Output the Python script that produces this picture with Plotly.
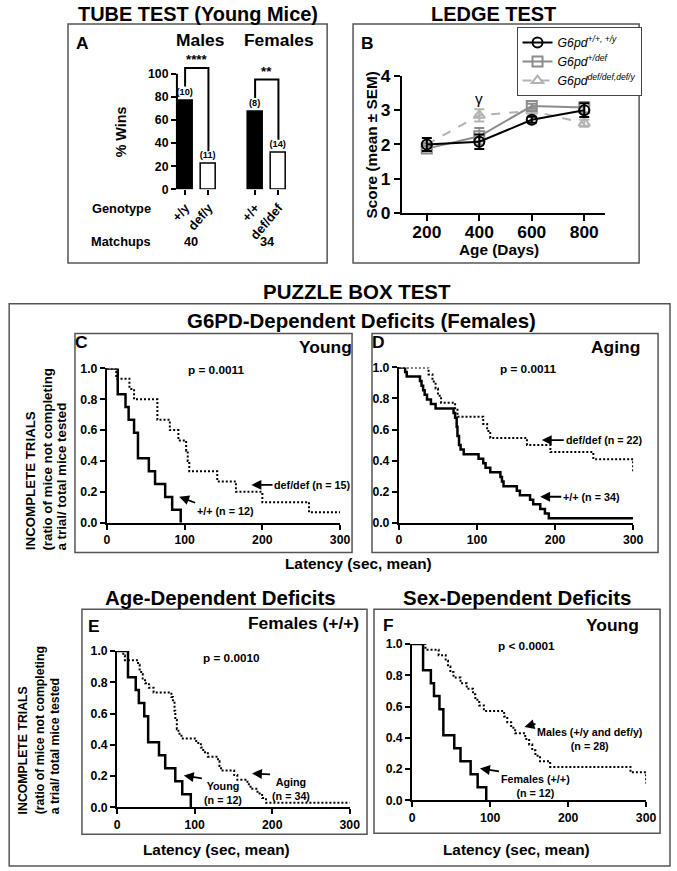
import plotly.graph_objects as go

# The page is captured from a 693x887 area (8px body margin around the figure)
# and shown at 677x871.  Target-picture pixels are mapped into figure pixels.
TW, TH = 677, 871
SX, SY = (TW + 16) / TW, (TH + 16) / TH
OX, OY = 8, 8
FW, FH = TW + 8, TH + 8
FONT = 'Liberation Sans, Arial, Helvetica, sans-serif'


def fx(p):
    return (p * SX - OX) / FW


def fy(p):
    return 1 - (p * SY - OY) / FH


def FS(s):
    return round(s * SX, 2)


# ---------------- data ----------------
# Panel A: tube test
tube_genotypes = ['+/y', 'def/y', '+/+', 'def/def']
tube_wins = [77, 22, 67, 32]
tube_n_labels = ['(10)', '(11)', '(8)', '(14)']
tube_sexes = ['Males', 'Females']
tube_matchups = ['40', '34']
tube_signif = ['****', '**']

# Panel B: ledge test
ledge_age = [200, 400, 600, 800]
ledge_wt_mean = [2.00, 2.08, 2.72, 3.00]
ledge_wt_sem = [0.19, 0.21, 0.09, 0.20]
ledge_het_mean = [1.88, 2.24, 3.12, 3.08]
ledge_het_sem = [0.08, 0.24, 0.07, 0.16]
ledge_def_mean = [2.00, 2.85, 2.98, 2.62]
ledge_def_sem = [0.05, 0.18, 0.08, 0.10]
ledge_names = ['<i>G6pd<sup>+/+, +/y</sup></i>', '<i>G6pd<sup>+/def</sup></i>',
               '<i>G6pd<sup>def/def,def/y</sup></i>']

# Puzzle box: Kaplan-Meier curves (latency, fraction incomplete)
young_ff_t = [0, 14, 24, 28, 35, 40, 54, 62, 75, 84, 95]
young_ff_s = [1.0, 0.833, 0.750, 0.667, 0.583, 0.417, 0.333, 0.250, 0.167, 0.083, 0.0]

young_dd_t = [0, 12, 29, 35, 65, 81, 92, 102, 104, 106, 142, 166, 200, 260, 300]
young_dd_s = [1.0, 0.933, 0.867, 0.800, 0.667, 0.600, 0.533, 0.467, 0.400, 0.333,
              0.267, 0.200, 0.133, 0.067, 0.067]

aging_ff_t = [0, 8, 10, 27, 29, 31, 33, 36, 41, 47, 70, 72, 74, 75, 77, 79, 83, 102, 108,
              111, 117, 130, 132, 134, 151, 155, 168, 172, 181, 187, 192, 300]
aging_ff_s = [1.0, 0.971, 0.941, 0.912, 0.882, 0.853, 0.824, 0.794, 0.765, 0.735, 0.706,
              0.676, 0.618, 0.559, 0.500, 0.471, 0.441, 0.412, 0.382, 0.353, 0.324, 0.294,
              0.265, 0.235, 0.206, 0.176, 0.147, 0.118, 0.088, 0.059, 0.029, 0.029]

aging_dd_t = [0, 38, 43, 47, 50, 54, 72, 75, 108, 113, 117, 164, 194, 249, 300]
aging_dd_s = [1.0, 0.955, 0.909, 0.864, 0.818, 0.773, 0.727, 0.682, 0.636, 0.591, 0.545,
              0.500, 0.455, 0.409, 0.318]

young_m_t = [0, 17, 34, 43, 46, 49, 53, 62, 70, 78, 81, 86, 92, 118, 122, 127, 132, 145,
             150, 154, 158, 164, 177, 280, 300]
young_m_s = [1.0, 0.964, 0.929, 0.893, 0.857, 0.821, 0.786, 0.750, 0.714, 0.679, 0.643,
             0.607, 0.571, 0.536, 0.500, 0.464, 0.429, 0.393, 0.357, 0.321, 0.286, 0.250,
             0.214, 0.179, 0.107]

# ---------------- figure ----------------
fig = go.Figure()

# Panel A bars
spacer = ' '
cat_order = [tube_genotypes[0], tube_genotypes[1], spacer, tube_genotypes[2], tube_genotypes[3]]
fig.add_trace(go.Bar(
    x=tube_genotypes, y=tube_wins, text=tube_n_labels, textposition='outside',
    constraintext='none',
    textfont=dict(family=FONT, size=FS(9), color='black', weight='bold'),
    marker=dict(color=['black', 'white', 'black', 'white'], line=dict(color='black', width=1.5)),
    width=0.64, xaxis='x', yaxis='y', showlegend=False, cliponaxis=False, hoverinfo='skip'))

bracket_tops = [105, 95]
for i in range(2):
    l, r = tube_genotypes[2 * i], tube_genotypes[2 * i + 1]
    fig.add_trace(go.Scatter(
        x=[l, l, r, r],
        y=[tube_wins[2 * i] + 12, bracket_tops[i], bracket_tops[i], tube_wins[2 * i + 1] + 11],
        mode='lines', line=dict(color='black', width=2), xaxis='x', yaxis='y',
        showlegend=False, hoverinfo='skip'))

# Panel B lines
series = [
    (ledge_def_mean, ledge_def_sem, 'triangle-up-open', '#b3b3b3', 'dash', ledge_names[2], 3),
    (ledge_het_mean, ledge_het_sem, 'square-open', '#8c8c8c', 'solid', ledge_names[1], 2),
    (ledge_wt_mean, ledge_wt_sem, 'circle-open', '#000000', 'solid', ledge_names[0], 1),
]
for mean, sem, sym, col, dash, name, rank in series:
    fig.add_trace(go.Scatter(
        x=ledge_age, y=mean, name=name, mode='lines+markers', legendrank=rank,
        line=dict(color=col, width=2, dash=dash),
        marker=dict(symbol=sym, size=10, color=col, line=dict(color=col, width=2)),
        error_y=dict(type='data', array=sem, color=col, thickness=2, width=5),
        xaxis='x2', yaxis='y2', cliponaxis=False))

# Kaplan-Meier curves
km = [
    ('x3', 'y3', young_ff_t, young_ff_s, 'solid'),
    ('x3', 'y3', young_dd_t, young_dd_s, 'dot'),
    ('x4', 'y4', aging_ff_t, aging_ff_s, 'solid'),
    ('x4', 'y4', aging_dd_t, aging_dd_s, 'dot'),
    ('x5', 'y5', young_ff_t, young_ff_s, 'solid'),
    ('x5', 'y5', aging_ff_t, aging_ff_s, 'dot'),
    ('x6', 'y6', young_ff_t, young_ff_s, 'solid'),
    ('x6', 'y6', young_m_t, young_m_s, 'dot'),
]
for xa, ya, t, s, dash in km:
    solid = dash == 'solid'
    fig.add_trace(go.Scatter(
        x=t, y=s, mode='lines',
        line=dict(color='black', width=2.5 if solid else 2,
                  dash='solid' if solid else '2px,2px', shape='hv'),
        xaxis=xa, yaxis=ya, showlegend=False, cliponaxis=False, hoverinfo='skip'))

# ---------------- axes ----------------
def common(ax):
    ax.update(showgrid=False, zeroline=False, linecolor='black', linewidth=2,
              ticks='outside', tickcolor='black', tickwidth=2, fixedrange=True)
    return ax


layout_axes = {}
# A
layout_axes['xaxis'] = common(dict(domain=[fx(177.3), fx(288.5)], anchor='y', type='category',
                                   categoryorder='array', categoryarray=cat_order,
                                   tickvals=tube_genotypes,
                                   range=[-0.35, 4.4], showline=False, ticks='', tickangle=-50,
                                   tickfont=dict(family=FONT, size=FS(12.5), color='black', weight='bold')))
layout_axes['yaxis'] = common(dict(domain=[fy(188), fy(188 - 107 * 1.16)], anchor='x',
                                   range=[0, 107], tickvals=[0, 20, 40, 60, 80, 100], showline=False,
                                   ticklen=5,
                                   tickfont=dict(family=FONT, size=FS(12), color='black', weight='bold')))
# B
layout_axes['xaxis2'] = common(dict(domain=[fx(403), fx(607)], anchor='y2', range=[105, 880],
                                    tickvals=ledge_age, showline=True, ticklen=6,
                                    ticklabelstandoff=-4,
                                    tickfont=dict(family=FONT, size=FS(17), color='black', weight='bold')))
layout_axes['yaxis2'] = common(dict(domain=[fy(212), fy(74)], anchor='x2', range=[0, 4],
                                    tickvals=[0, 1, 2, 3, 4], showline=True, ticklen=6,
                                    tickfont=dict(family=FONT, size=FS(17), color='black', weight='bold')))

km_boxes = {3: (107, 341, 368, 523), 4: (400, 635, 367, 523),
            5: (117.3, 350.7, 652, 809), 6: (413.3, 648, 645, 802)}
for k, (x0, x1, ytop, ybot) in km_boxes.items():
    layout_axes['xaxis%d' % k] = common(dict(
        domain=[fx(x0), fx(x1)], anchor='y%d' % k, range=[0, 300], tickvals=[0, 100, 200, 300],
        showline=True, ticklen=5,
        tickfont=dict(family=FONT, size=FS(12), color='black', weight='bold')))
    layout_axes['yaxis%d' % k] = common(dict(
        domain=[fy(ybot), fy(ytop)], anchor='x%d' % k, range=[0, 1.0],
        tickvals=[0, 0.2, 0.4, 0.6, 0.8, 1.0], tickformat='.1f', showline=True, ticklen=5,
        tickfont=dict(family=FONT, size=FS(12), color='black', weight='bold')))

# ---------------- shapes ----------------
shapes = []
BOX = dict(color='#555555', width=1.5)
for (x0, y0, x1, y1) in [(68, 22, 328, 262), (354, 22, 641, 262), (9, 303, 672, 868),
                         (75, 333, 353, 553), (373, 333, 660, 553),
                         (82, 610, 368, 836), (375, 610, 662, 835)]:
    shapes.append(dict(type='rect', xref='paper', yref='paper', x0=fx(x0), x1=fx(x1),
                       y0=fy(y1), y1=fy(y0), line=BOX, fillcolor='rgba(0,0,0,0)', layer='below'))
# Panel A y axis line (0-100)
shapes.append(dict(type='line', xref='paper', yref='y', x0=fx(177.3), x1=fx(177.3), y0=0, y1=100,
                   line=dict(color='black', width=2)))

# ---------------- annotations ----------------
ann = []


def T(x, y, text, size, bold=True, **kw):
    d = dict(x=fx(x), y=fy(y), xref='paper', yref='paper', text=text, showarrow=False,
             font=dict(family=FONT, size=FS(size), color='black',
                       weight='bold' if bold else 'normal'),
             xanchor='center', yanchor='middle')
    d.update(kw)
    ann.append(d)


def Arr(xr, yr, x, y, text, ax, ay, yanchor='middle', size=10.5):
    ann.append(dict(x=x, y=y, xref=xr, yref=yr, text=text, showarrow=True, arrowhead=2,
                    arrowsize=1.1, arrowwidth=1.8, arrowcolor='black', ax=ax, ay=ay,
                    xanchor='left', yanchor=yanchor, align='center',
                    font=dict(family=FONT, size=FS(size), color='black', weight='bold')))


# titles
T(198, 12, 'TUBE TEST (Young Mice)', 19.5)
T(495, 12, 'LEDGE TEST', 19.5)
T(358, 291, 'PUZZLE BOX TEST', 20)
T(362, 320, 'G6PD-Dependent Deficits (Females)', 20)
T(221, 598, 'Age-Dependent Deficits', 20)
T(518, 598, 'Sex-Dependent Deficits', 20)

# panel letters
for lx, ly, lt in [(83, 41, 'A'), (368, 41, 'B'), (82, 341, 'C'), (380, 341, 'D'),
                   (94, 627, 'E'), (390, 626, 'F')]:
    T(lx, ly, lt, 17)

# panel A text
T(200, 38, tube_sexes[0], 17)
T(280, 38, tube_sexes[1], 17)
T(121, 130, '% Wins', 14, textangle=-90)
T(122, 207, 'Genotype', 12.5)
T(121, 240, 'Matchups', 12.5)
T(191, 240, tube_matchups[0], 12.5)
T(268, 240, tube_matchups[1], 12.5)
for i in range(2):
    ann.append(dict(x=3 * i + 0.5, y=bracket_tops[i], xref='x', yref='y', text=tube_signif[i],
                    showarrow=False, yanchor='bottom', yshift=-1,
                    font=dict(family=FONT, size=FS(13), color='black', weight='bold')))

# panel B text
T(372, 143, 'Score (mean ± SEM)', 15, textangle=-90)
T(500, 249, 'Age (Days)', 15)
ann.append(dict(x=ledge_age[1], y=3.33, xref='x2', yref='y2', text='γ', showarrow=False,
                font=dict(family=FONT, size=FS(15), color='black')))

# puzzle box panel text
T(326, 346, 'Young', 17)
T(617, 346, 'Aging', 17)
T(304, 624, 'Females (+/+)', 17)
T(614, 626, 'Young', 17)
T(216, 369, 'p = 0.0011', 11.5)
T(530, 368, 'p = 0.0011', 11.5)
T(232, 658, 'p = 0.0010', 11.5)
T(528, 646, 'p < 0.0001', 11.5)

T(359, 564, 'Latency (sec, mean)', 15)
T(217, 851, 'Latency (sec, mean)', 15)
T(518, 851, 'Latency (sec, mean)', 15)

for xs, yb, sz in [((30, 47, 62), 553, 13), ((23, 40, 55), 818, 12)]:
    T(xs[0], yb, 'INCOMPLETE TRIALS', sz, textangle=-90, yanchor='bottom')
    T(xs[1], yb, '(ratio of mice not completing', sz, textangle=-90, yanchor='bottom')
    T(xs[2], yb, 'a trial/ total mice tested', sz, textangle=-90, yanchor='bottom')

# curve labels with arrows
Arr('x3', 'y3', 186, 0.245, 'def/def (n = 15)', 21, 0)
Arr('x3', 'y3', 93, 0.168, '+/+ (n = 12)', 16, 6, yanchor='top')
Arr('x4', 'y4', 183, 0.532, 'def/def (n = 22)', 22, 0)
Arr('x4', 'y4', 181, 0.167, '+/+ (n = 34)', 21, 0)
Arr('x5', 'y5', 86, 0.204, 'Young<br>(n = 12)', 18, 3, yanchor='top')
Arr('x5', 'y5', 174, 0.217, 'Aging<br>(n = 34)', 18, 1, yanchor='top')
Arr('x6', 'y6', 144, 0.47, 'Males (+/y and def/y)<br>(n = 28)', 11, -3, yanchor='top')
Arr('x6', 'y6', 87, 0.204, 'Females (+/+)<br>(n = 12)', 19, 3, yanchor='top')

fig.update_layout(
    width=FW, height=FH, margin=dict(l=0, r=0, t=0, b=0),
    paper_bgcolor='white', plot_bgcolor='rgba(0,0,0,0)',
    font=dict(family=FONT, color='black'),
    bargap=0, shapes=shapes, annotations=ann,
    legend=dict(x=fx(518), y=fy(25), xanchor='left', yanchor='top', bordercolor='#444444',
                borderwidth=1, bgcolor='white', tracegroupgap=0, itemwidth=30,
                font=dict(family=FONT, size=FS(12), color='black')),
    **layout_axes)

fig.write_html('out.html')
